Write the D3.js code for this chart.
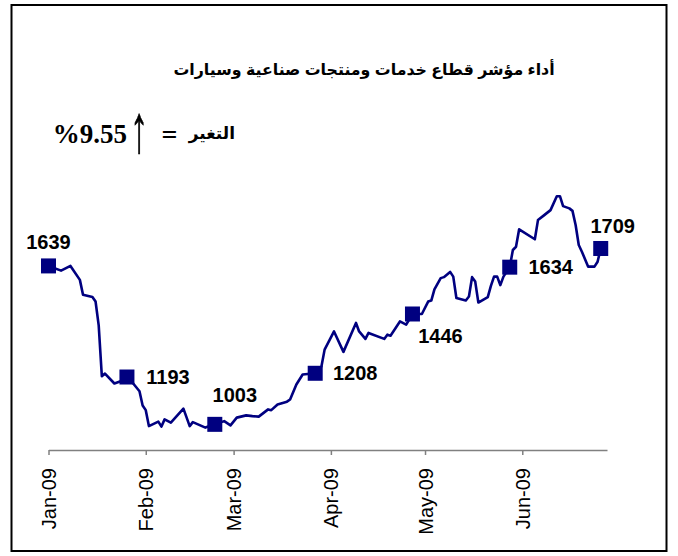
<!DOCTYPE html>
<html>
<head>
<meta charset="utf-8">
<script src="https://cdn.jsdelivr.net/npm/d3@7"></script>
<style>
  body { margin: 0; background: #fff; }
  svg { display: block; }
</style>
</head>
<body>
<div id="chart"></div>
<script>
// index values
var dates = ["2009-01-01","2009-01-05","2009-01-08","2009-01-11","2009-01-12","2009-01-15","2009-01-16","2009-01-17",
  "2009-01-18","2009-01-19","2009-01-22","2009-01-24","2009-01-26","2009-01-28","2009-01-30","2009-01-31",
  "2009-02-01","2009-02-02","2009-02-05","2009-02-06","2009-02-07","2009-02-09","2009-02-13","2009-02-15",
  "2009-02-16","2009-02-20","2009-02-23","2009-02-26","2009-02-28","2009-03-02","2009-03-05","2009-03-07",
  "2009-03-09","2009-03-12","2009-03-13","2009-03-15","2009-03-18","2009-03-19","2009-03-21","2009-03-22",
  "2009-03-23","2009-03-27","2009-03-29","2009-03-30","2009-04-02","2009-04-05","2009-04-09","2009-04-10",
  "2009-04-12","2009-04-13","2009-04-18","2009-04-19","2009-04-20","2009-04-23","2009-04-25","2009-04-27",
  "2009-04-30","2009-05-02","2009-05-03","2009-05-04","2009-05-06","2009-05-07","2009-05-09","2009-05-10",
  "2009-05-11","2009-05-14","2009-05-15","2009-05-16","2009-05-17","2009-05-18","2009-05-21","2009-05-22",
  "2009-05-23","2009-05-24","2009-05-25","2009-05-26","2009-05-28","2009-05-29","2009-05-30","2009-05-31",
  "2009-06-05","2009-06-06","2009-06-08","2009-06-10","2009-06-12","2009-06-13","2009-06-14","2009-06-16",
  "2009-06-17","2009-06-18","2009-06-19","2009-06-20","2009-06-22","2009-06-24","2009-06-25","2009-06-26"]
var values = [1639,1620,1639,1583,1523,1514,1496,1400,
  1196,1207,1167,1176,1193,1167,1136,1079,
  1060,996,1014,994,1023,1010,1066,996,
  1012,990,1003,1016,999,1030,1039,1036,
  1034,1063,1060,1083,1094,1103,1163,1183,
  1203,1208,1236,1303,1376,1294,1410,1376,
  1346,1370,1346,1363,1359,1416,1403,1446,
  1446,1496,1500,1545,1590,1594,1615,1596,
  1510,1500,1516,1594,1576,1492,1514,1559,
  1596,1596,1562,1596,1634,1703,1716,1786,
  1746,1823,1843,1863,1919,1919,1879,1870,
  1860,1803,1723,1696,1636,1636,1656,1709]

// labelled points (monthly)
var markerDates = ["2009-01-01","2009-01-26","2009-02-23","2009-03-27","2009-04-27","2009-05-28","2009-06-26"]

var tickDates = ["2009-01-01","2009-02-01","2009-03-01","2009-04-01","2009-05-01","2009-06-01"]

var title = "أداء مؤشر قطاع خدمات ومنتجات صناعية وسيارات"
var changeLabel = "التغير"
var changeValue = "%9.55"

var W = 678, H = 556
var parse = d3.timeParse("%Y-%m-%d")
var navy = "#000080"

var series = dates.map(function(d, i){ return { date: parse(d), value: values[i] } })
var markers = series.filter(function(d){
  return markerDates.indexOf(d3.timeFormat("%Y-%m-%d")(d.date)) >= 0
})

var svg = d3.select("#chart").append("svg")
  .attr("width", W)
  .attr("height", H)

// frame
svg.append("rect")
  .attr("x", 11.5).attr("y", 5)
  .attr("width", 655).attr("height", 546)
  .attr("fill", "none")
  .attr("stroke", "#000")
  .attr("stroke-width", 2)

svg.append("text")
  .attr("x", 364).attr("y", 69)
  .attr("text-anchor", "middle")
  .attr("dominant-baseline", "central")
  .attr("font-family", "Arial, 'DejaVu Sans', sans-serif")
  .attr("font-weight", "bold")
  .attr("font-size", 15.8)
  .text(title)

// change line:  التغير = ↑ %9.55
var hdr = svg.append("g")
hdr.append("text")
  .attr("x", 235).attr("y", 133)
  .attr("text-anchor", "end")
  .attr("dominant-baseline", "central")
  .attr("font-family", "Arial, 'DejaVu Sans', sans-serif")
  .attr("font-weight", "bold")
  .attr("font-size", 17)
  .text(changeLabel)
hdr.append("text")
  .attr("x", 169.5).attr("y", 134)
  .attr("text-anchor", "middle")
  .attr("dominant-baseline", "central")
  .attr("font-family", "'Liberation Serif', serif")
  .attr("font-weight", "bold")
  .attr("font-size", 28)
  .text("=")
hdr.append("text")
  .attr("transform", "translate(139,130) scale(0.9,1.7)")
  .attr("text-anchor", "middle")
  .attr("dominant-baseline", "central")
  .attr("font-family", "'Liberation Serif', serif")
  .attr("font-size", 40)
  .attr("stroke", "#000")
  .attr("stroke-width", 0.4)
  .text("↑")
hdr.append("text")
  .attr("x", 127).attr("y", 134)
  .attr("text-anchor", "end")
  .attr("dominant-baseline", "central")
  .attr("font-family", "'Liberation Serif', serif")
  .attr("font-weight", "bold")
  .attr("font-size", 27)
  .attr("direction", "ltr")
  .text(changeValue)

var x = d3.scaleTime()
  .domain([parse("2009-01-01"), parse("2009-06-28")])
  .range([48.5, 607])

var y = d3.scaleLinear()
  .domain([900, 2000])
  .range([450, 176])

var xAxis = d3.axisBottom(x)
  .tickValues(tickDates.map(parse))
  .tickFormat(d3.timeFormat("%b-%y"))
  .tickSize(5)
  .tickSizeOuter(0)

var gx = svg.append("g")
  .attr("transform", "translate(0," + y(900) + ")")
  .call(xAxis)
gx.select(".domain").attr("stroke", "#808080").attr("stroke-width", 1.5)
gx.selectAll(".tick line").attr("stroke", "#808080").attr("stroke-width", 1.5)
gx.selectAll(".tick text")
  .attr("transform", "rotate(-90)")
  .attr("text-anchor", "end")
  .attr("x", -18)
  .attr("y", 0)
  .attr("dy", "0.35em")
  .attr("fill", "#000")
  .attr("font-family", "Arial, 'Liberation Sans', sans-serif")
  .attr("font-size", 20)

var line = d3.line()
  .x(function(d){ return x(d.date) })
  .y(function(d){ return y(d.value) })

svg.append("path")
  .datum(series)
  .attr("d", line)
  .attr("fill", "none")
  .attr("stroke", navy)
  .attr("stroke-width", 2.6)
  .attr("stroke-linejoin", "round")

var sq = 15
svg.selectAll(".marker")
  .data(markers)
  .enter()
    .append("rect")
    .attr("class", "marker")
    .attr("x", function(d){ return x(d.date) - sq/2 })
    .attr("y", function(d){ return y(d.value) - sq/2 })
    .attr("width", sq)
    .attr("height", sq)
    .attr("fill", navy)

// where each label sits relative to its marker
var labelOffsets = [[0,-24],[41,0],[20,-29],[40,0],[28,22],[41,0],[12,-22]]

svg.selectAll(".val-label")
  .data(markers)
  .enter()
    .append("text")
    .attr("class", "val-label")
    .attr("x", function(d, i){ return x(d.date) + labelOffsets[i][0] })
    .attr("y", function(d, i){ return y(d.value) + labelOffsets[i][1] })
    .attr("text-anchor", "middle")
    .attr("dominant-baseline", "central")
    .attr("font-family", "Arial, 'Liberation Sans', sans-serif")
    .attr("font-weight", "bold")
    .attr("font-size", 20)
    .text(function(d){ return d.value })
</script>
</body>
</html>
